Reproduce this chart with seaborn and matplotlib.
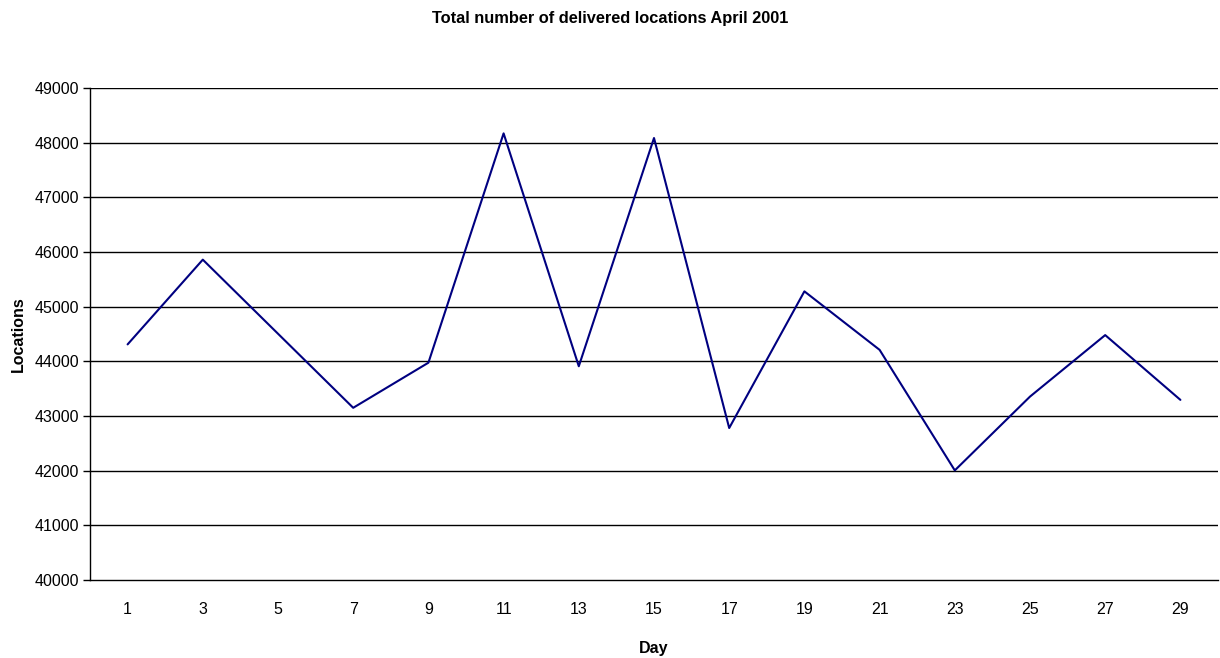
import matplotlib
matplotlib.use("Agg")
import matplotlib.pyplot as plt
import seaborn as sns
import pandas as pd
import numpy as np

# Delivered locations per (odd) day, April 2001
days = [1, 3, 5, 7, 9, 11, 13, 15, 17, 19, 21, 23, 25, 27, 29]
locations = [44310, 45860, 44505, 43150, 43975, 48170, 43910, 48085,
             42780, 45280, 44210, 42005, 43355, 44480, 43295]
y_ticks = [40000, 41000, 42000, 43000, 44000, 45000, 46000, 47000, 48000, 49000]

df = pd.DataFrame({"Day": days, "Locations": locations})

sns.set_theme(style="white")
plt.rcParams["font.family"] = ["Liberation Sans", "DejaVu Sans"]
plt.rcParams["text.color"] = "black"
plt.rcParams["axes.labelcolor"] = "black"
plt.rcParams["xtick.color"] = "black"
plt.rcParams["ytick.color"] = "black"

fig = plt.figure(figsize=(12.2, 6.58), dpi=100)
ax = fig.add_axes([90 / 1220, 1 - 580 / 658, (1218 - 90) / 1220, (580 - 88) / 658])

for v in y_ticks[1:]:
    ax.axhline(v, color="black", linewidth=1.0, zorder=1)

sns.lineplot(data=df, x="Day", y="Locations", color="#000080", linewidth=1.5,
             ax=ax, zorder=3)

ax.set_xlim(0, 30)
ax.set_ylim(40000, 49000)
ax.set_yticks(y_ticks)
ax.set_yticklabels([str(v) for v in y_ticks])
ax.set_xticks(days)
ax.set_xticklabels([str(d) for d in days])
ax.set_xticks(np.arange(0, 31, 2), minor=True)

ax.tick_params(axis="x", which="major", length=0, pad=16, labelsize=11.5, labelcolor="black")
ax.tick_params(axis="x", which="minor", length=5, width=1, color="black", direction="out")
ax.tick_params(axis="y", which="major", length=5, width=1, color="black", direction="out",
               labelsize=11.5, pad=3, left=True, labelcolor="black")

for side in ["top", "right"]:
    ax.spines[side].set_visible(False)
for side in ["left", "bottom"]:
    ax.spines[side].set_color("black")
    ax.spines[side].set_linewidth(1.0)

ax.set_xlabel("Day", fontsize=11.5, fontweight="bold", labelpad=17, color="black")
ax.set_ylabel("Locations", fontsize=11.5, fontweight="bold", labelpad=6, color="black")
fig.suptitle("Total number of delivered locations April 2001", fontsize=11.8,
             fontweight="bold", y=1 - 19 / 658, va="center", color="black")

fig.savefig("out.png", dpi=100, facecolor="white")
